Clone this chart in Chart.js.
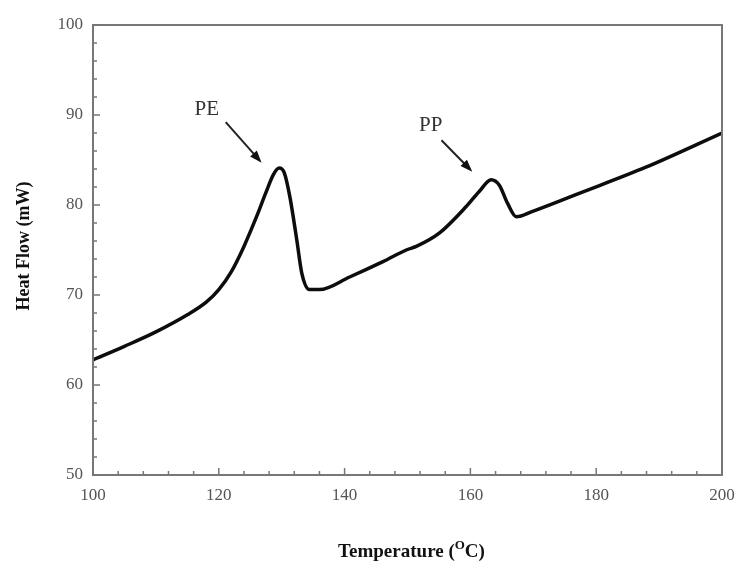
<!DOCTYPE html>
<html lang="en">
<head>
  <meta charset="UTF-8" />
  <title>Heat Flow vs Temperature</title>
  <script src="https://cdn.jsdelivr.net/npm/chart.js"></script>
  <style>
    * { margin: 0; padding: 0; box-sizing: border-box; }
    body { background: #fff; width: 742px; height: 563px; overflow: hidden; }
    .chart-box { position: relative; width: 742px; height: 563px; }
  </style>
</head>
<body>
  <div class="chart-box">
    <canvas id="dscChart"></canvas>
  </div>

  <script>
    // values
    const temperature = [100, 105, 110, 115, 118, 120, 122, 124, 126, 127.5, 128.7, 129.6, 130.4, 131.3, 132.4, 133.2, 134.4, 136.0, 140.8, 146.1, 149.8, 151.4, 155.1, 159.3, 161.4, 163.3, 164.6, 165.9, 167.3, 169.9, 177.3, 187.9, 200];
    const heatFlow    = [62.8, 64.3, 65.9, 67.8, 69.2, 70.6, 72.6, 75.4, 78.7, 81.4, 83.4, 84.1, 83.6, 80.9, 76.1, 72.4, 70.6, 70.6, 72.0, 73.7, 75.0, 75.4, 76.9, 79.8, 81.5, 82.8, 82.2, 80.2, 78.7, 79.3, 81.3, 84.2, 88.0];

    const xMajorTicks = [100, 120, 140, 160, 180, 200];
    const yMajorTicks = [50, 60, 70, 80, 90, 100];
    const xMinorStep = 4;
    const yMinorStep = 2;

    // peak labels: [text, textX, textY, arrowFromX, arrowFromY, arrowToX, arrowToY] in data units
    const peakLabels = [
      ['PE', 118.1, 90.6, 121.1, 89.2, 126.8, 84.7],
      ['PP', 153.7, 88.8, 155.4, 87.2, 160.3, 83.7]
    ];

    const serif = '"Liberation Serif", "DejaVu Serif", serif';

    const framePlugin = {
      id: 'frame',
      afterDraw(chart) {
        const { ctx, chartArea: a, scales: { x, y } } = chart;
        ctx.save();

        // box
        ctx.strokeStyle = '#777';
        ctx.lineWidth = 2;
        ctx.strokeRect(a.left, a.top, a.right - a.left, a.bottom - a.top);

        // inward ticks on left and bottom
        ctx.lineWidth = 1.5;
        ctx.beginPath();
        for (let v = x.min; v <= x.max; v += xMinorStep) {
          const px = x.getPixelForValue(v);
          const len = xMajorTicks.includes(v) ? 7 : 4;
          ctx.moveTo(px, a.bottom);
          ctx.lineTo(px, a.bottom - len);
        }
        for (let v = y.min; v <= y.max; v += yMinorStep) {
          const py = y.getPixelForValue(v);
          const len = yMajorTicks.includes(v) ? 7 : 4;
          ctx.moveTo(a.left, py);
          ctx.lineTo(a.left + len, py);
        }
        ctx.stroke();

        // peak labels with arrows
        ctx.fillStyle = '#333';
        ctx.strokeStyle = '#222';
        ctx.font = '21px ' + serif;
        ctx.textAlign = 'center';
        ctx.textBaseline = 'middle';
        peakLabels.forEach(p => {
          ctx.fillText(p[0], x.getPixelForValue(p[1]), y.getPixelForValue(p[2]));
          const x1 = x.getPixelForValue(p[3]), y1 = y.getPixelForValue(p[4]);
          const x2 = x.getPixelForValue(p[5]), y2 = y.getPixelForValue(p[6]);
          const ang = Math.atan2(y2 - y1, x2 - x1);
          const head = 13;
          ctx.lineWidth = 2;
          ctx.beginPath();
          ctx.moveTo(x1, y1);
          ctx.lineTo(x2 - head * 0.8 * Math.cos(ang), y2 - head * 0.8 * Math.sin(ang));
          ctx.stroke();
          ctx.fillStyle = '#111';
          ctx.beginPath();
          ctx.moveTo(x2, y2);
          ctx.lineTo(x2 - head * Math.cos(ang - 0.35), y2 - head * Math.sin(ang - 0.35));
          ctx.lineTo(x2 - head * Math.cos(ang + 0.35), y2 - head * Math.sin(ang + 0.35));
          ctx.closePath();
          ctx.fill();
          ctx.fillStyle = '#333';
        });

        // axis titles
        ctx.fillStyle = '#111';
        ctx.font = 'bold 18px ' + serif;
        ctx.save();
        ctx.translate(24, (a.top + a.bottom) / 2 - 4);
        ctx.rotate(-Math.PI / 2);
        ctx.fillText('Heat Flow (mW)', 0, 0);
        ctx.restore();

        // Temperature (°C) with raised O
        ctx.textAlign = 'left';
        ctx.textBaseline = 'alphabetic';
        const bigFont = 'bold 19px ' + serif;
        const supFont = 'bold 13px ' + serif;
        const part1 = 'Temperature (', sup = 'O', part2 = 'C)';
        ctx.font = bigFont;
        const w1 = ctx.measureText(part1).width, w3 = ctx.measureText(part2).width;
        ctx.font = supFont;
        const w2 = ctx.measureText(sup).width;
        let tx = (a.left + a.right) / 2 + 4 - (w1 + w2 + w3) / 2;
        const base = 557;
        ctx.font = bigFont;
        ctx.fillText(part1, tx, base);
        tx += w1;
        ctx.font = supFont;
        ctx.fillText(sup, tx, base - 8);
        tx += w2;
        ctx.font = bigFont;
        ctx.fillText(part2, tx, base);

        ctx.restore();
      }
    };

    const ctx = document.getElementById('dscChart').getContext('2d');
    new Chart(ctx, {
      type: 'scatter',
      data: {
        datasets: [{
          label: 'Heat Flow',
          data: temperature.map((t, i) => ({ x: t, y: heatFlow[i] })),
          showLine: true,
          borderColor: '#0d0d0d',
          borderWidth: 3.5,
          pointRadius: 0,
          cubicInterpolationMode: 'monotone',
          fill: false
        }]
      },
      options: {
        responsive: true,
        maintainAspectRatio: false,
        animation: false,
        layout: { padding: { top: 25, right: 20, left: 0, bottom: 0 } },
        plugins: {
          legend: { display: false },
          tooltip: { enabled: false }
        },
        scales: {
          x: {
            type: 'linear',
            min: 100,
            max: 200,
            ticks: {
              stepSize: 20,
              color: '#555',
              padding: 10,
              font: { family: serif, size: 17 }
            },
            grid: { display: false, drawTicks: false },
            border: { display: false },
            afterFit: s => { s.height = 88; s.paddingLeft = 0; s.paddingRight = 0; }
          },
          y: {
            min: 50,
            max: 100,
            ticks: {
              stepSize: 10,
              color: '#555',
              padding: 10,
              font: { family: serif, size: 17 }
            },
            grid: { display: false, drawTicks: false },
            border: { display: false },
            afterFit: s => { s.width = 93; s.paddingTop = 0; s.paddingBottom = 0; }
          }
        }
      },
      plugins: [framePlugin]
    });
  </script>
</body>
</html>
